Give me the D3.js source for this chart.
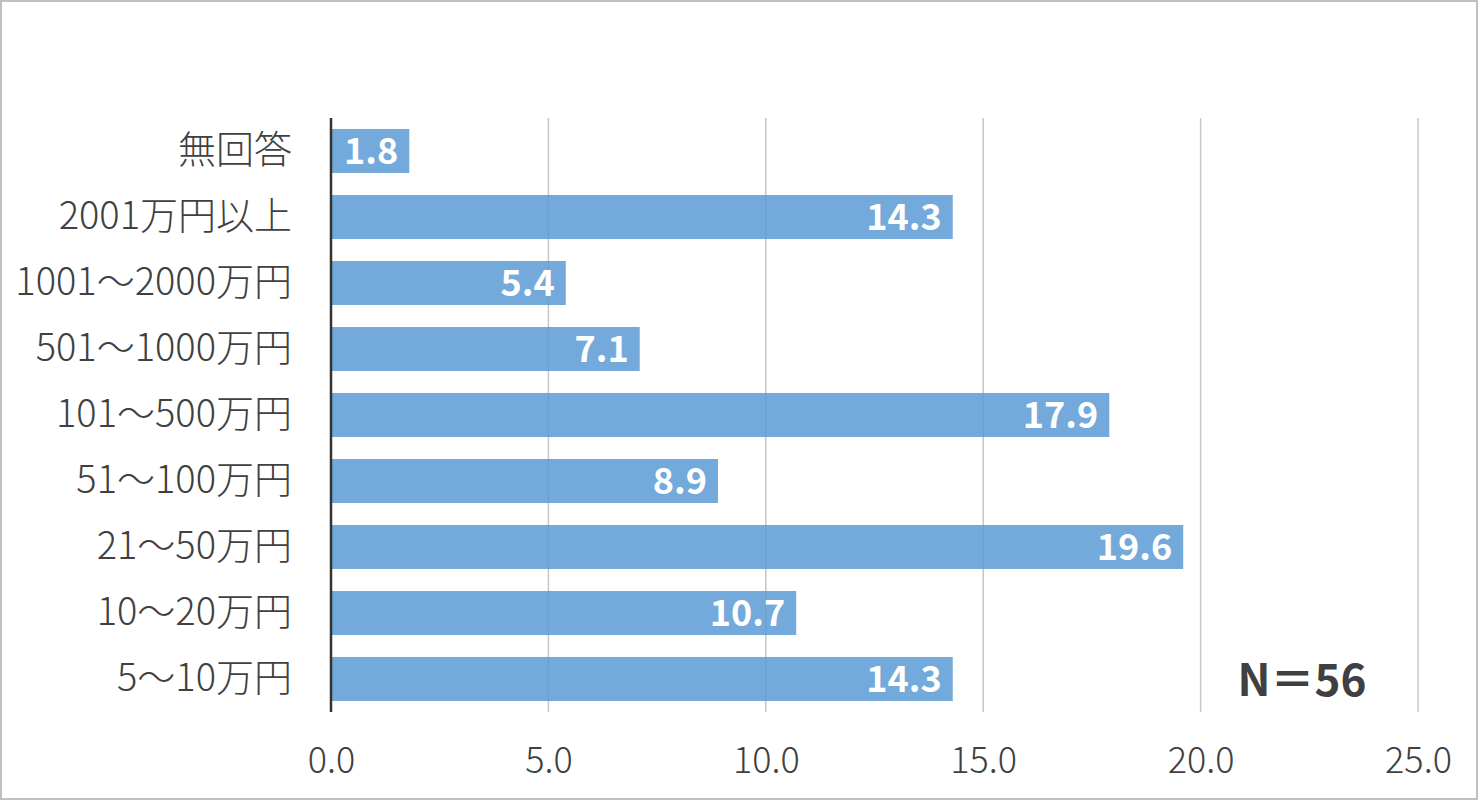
<!DOCTYPE html>
<html>
<head>
<meta charset="utf-8">
<style>
    body { margin: 0; background: #fff; }
    #chart { width: 1478px; height: 800px; }
    .cat, .tick text { font-family: "Noto Sans CJK JP", "Noto Sans", sans-serif; font-weight: 300; fill: #404040; }
    .val { font-family: "Noto Sans CJK JP", sans-serif; font-weight: bold; fill: #fff; }
</style>
<script src="https://cdn.jsdelivr.net/npm/d3@7"></script>
</head>
<body>
<div id="chart"></div>
<script>
    // data (percent)
    const categories = ["無回答", "2001万円以上", "1001～2000万円", "501～1000万円", "101～500万円",
        "51～100万円", "21～50万円", "10～20万円", "5～10万円"];
    const values = [1.8, 14.3, 5.4, 7.1, 17.9, 8.9, 19.6, 10.7, 14.3];
    const ticks = [0, 5, 10, 15, 20, 25];
    const note = "N＝56";

    const W = 1478, H = 800;
    const margin = {top: 118, right: 60, bottom: 88, left: 331};

    const svg = d3.select("#chart").append("svg")
        .attr("width", W)
        .attr("height", H);

    // outer frame
    svg.append("rect")
        .attr("x", 1).attr("y", 1)
        .attr("width", W - 2).attr("height", H - 2)
        .attr("fill", "#fff")
        .attr("stroke", "#bfbfbf")
        .attr("stroke-width", 2);

    const x = d3.scaleLinear().domain([0, 25]).range([margin.left, 1418]);
    const y = d3.scaleBand().domain(categories)
        .range([margin.top, H - margin.bottom])
        .paddingInner(0.333).paddingOuter(0.1665);

    const bottom = H - margin.bottom;

    // vertical grid
    svg.append("g").selectAll("line")
        .data(ticks.filter(d => d > 0))
        .join("line")
        .attr("x1", d => x(d)).attr("x2", d => x(d))
        .attr("y1", margin.top).attr("y2", bottom)
        .attr("stroke", "#c6c6c6")
        .attr("stroke-width", 1.5);

    // bars
    svg.append("g").selectAll("rect")
        .data(values)
        .join("rect")
        .attr("x", x(0))
        .attr("y", (d, i) => y(categories[i]))
        .attr("width", d => x(d) - x(0))
        .attr("height", y.bandwidth())
        .attr("fill", "#5b9bd5")
        .attr("fill-opacity", 0.85);

    // value labels
    svg.append("g").selectAll("text")
        .data(values)
        .join("text")
        .attr("class", "val")
        .attr("x", d => x(d) - 11)
        .attr("y", (d, i) => y(categories[i]) + y.bandwidth() / 2)
        .attr("dy", "0.36em")
        .attr("text-anchor", "end")
        .attr("font-size", 36)
        .text(d => d.toFixed(1));

    // category labels
    svg.append("g").selectAll("text")
        .data(categories)
        .join("text")
        .attr("class", "cat")
        .attr("x", 292)
        .attr("y", d => y(d) + y.bandwidth() / 2 - 2)
        .attr("dy", "0.36em")
        .attr("text-anchor", "end")
        .attr("font-size", 38)
        .text(d => d);

    // x axis tick labels
    const xAxis = d3.axisBottom(x)
        .tickValues(ticks)
        .tickFormat(d3.format(".1f"))
        .tickSize(0)
        .tickPadding(35);
    const ax = svg.append("g")
        .attr("transform", `translate(0,${bottom})`)
        .call(xAxis);
    ax.select(".domain").remove();
    ax.selectAll(".tick text").attr("font-size", 36);

    // y axis line
    svg.append("line")
        .attr("x1", x(0)).attr("x2", x(0))
        .attr("y1", margin.top).attr("y2", bottom)
        .attr("stroke", "#333")
        .attr("stroke-width", 2.5);

    // N label
    svg.append("text")
        .attr("x", 1302).attr("y", 696)
        .attr("text-anchor", "middle")
        .attr("font-family", "'Noto Sans CJK JP', sans-serif")
        .attr("font-weight", "bold")
        .attr("font-size", 44)
        .attr("fill", "#404040")
        .text(note);
</script>
</body>
</html>
